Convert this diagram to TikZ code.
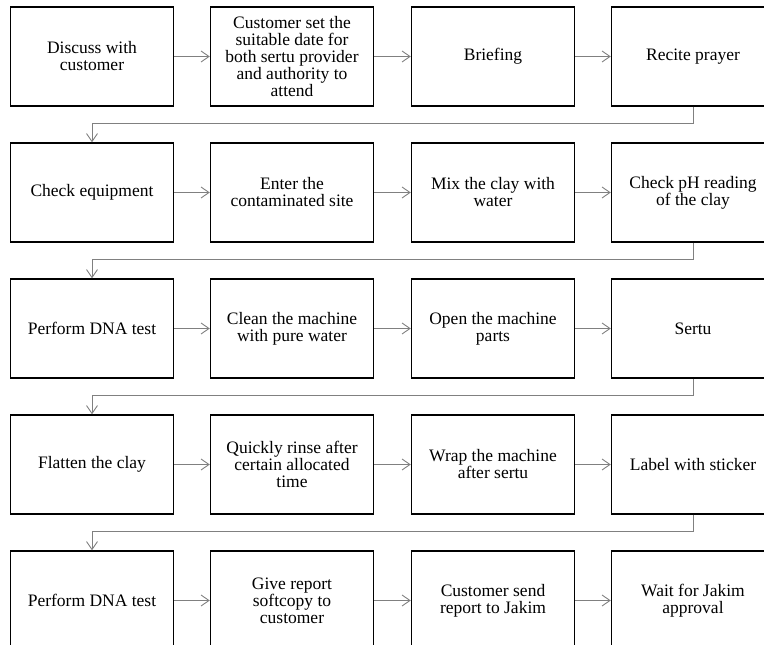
\documentclass[tikz,border=0pt]{standalone}
\usepackage{fontspec}
\setmainfont{Liberation Serif}
\usetikzlibrary{arrows.meta}

\tikzset{
  stepbox/.style={draw, line width=1.4pt, minimum width=163pt, minimum height=99pt,
    inner sep=0pt, align=center, font=\fontsize{17.5}{17}\selectfont},
  flow/.style={draw=gray, line width=0.9pt, -{Straight Barb[length=8pt,width=11pt]}}
}

\begin{document}
\begin{tikzpicture}[x=1pt,y=-1pt]
\useasboundingbox (0,0) rectangle (764,645);
\clip (0,0) rectangle (764,645);

% row 1
\node[stepbox] (a1) at (92,56.5) {Discuss with\\customer};
\node[stepbox] (a2) at (292,56.5) {Customer set the\\suitable date for\\both sertu provider\\and authority to\\attend};
\node[stepbox] (a3) at (493,56.5) {Briefing};
\node[stepbox] (a4) at (693,56.5) {Recite prayer};

% row 2
\node[stepbox] (b1) at (92,192.5) {Check equipment};
\node[stepbox] (b2) at (292,192.5) {Enter the\\contaminated site};
\node[stepbox] (b3) at (493,192.5) {Mix the clay with\\water};
\node[stepbox] (b4) at (693,192.5) {Check pH reading\\of the clay};

% row 3
\node[stepbox] (c1) at (92,328.5) {Perform DNA test};
\node[stepbox] (c2) at (292,328.5) {Clean the machine\\with pure water};
\node[stepbox] (c3) at (493,328.5) {Open the machine\\parts};
\node[stepbox] (c4) at (693,328.5) {Sertu};

% row 4
\node[stepbox] (d1) at (92,464.5) {Flatten the clay};
\node[stepbox] (d2) at (292,464.5) {Quickly rinse after\\certain allocated\\time};
\node[stepbox] (d3) at (493,464.5) {Wrap the machine\\after sertu};
\node[stepbox] (d4) at (693,464.5) {Label with sticker};

% row 5
\node[stepbox] (e1) at (92,600.5) {Perform DNA test};
\node[stepbox] (e2) at (292,600.5) {Give report\\softcopy to\\customer};
\node[stepbox] (e3) at (493,600.5) {Customer send\\report to Jakim};
\node[stepbox] (e4) at (693,600.5) {Wait for Jakim\\approval};

\foreach \r in {a,b,c,d,e}{
  \draw[flow] (\r1) -- (\r2);
  \draw[flow] (\r2) -- (\r3);
  \draw[flow] (\r3) -- (\r4);
}

\draw[flow] (a4.south) -- ++(0,17) -| (b1.north);
\draw[flow] (b4.south) -- ++(0,17) -| (c1.north);
\draw[flow] (c4.south) -- ++(0,17) -| (d1.north);
\draw[flow] (d4.south) -- ++(0,17) -| (e1.north);
\end{tikzpicture}
\end{document}
